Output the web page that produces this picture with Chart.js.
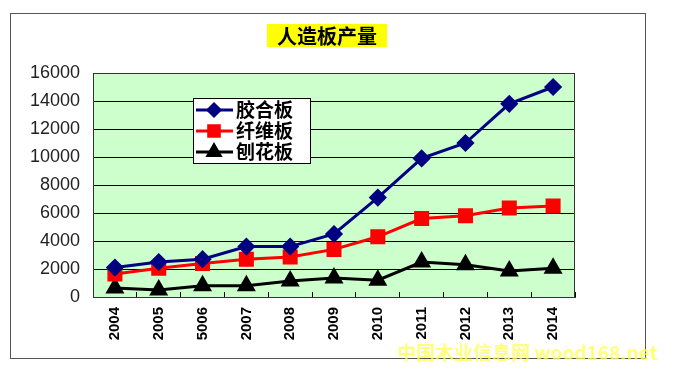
<!DOCTYPE html>
<html>
<head>
<meta charset="utf-8">
<script src="https://cdn.jsdelivr.net/npm/chart.js@4"></script>
<style>
body { margin: 0; background: #fff; }
#wrap { position: relative; width: 674px; height: 370px; }
#frame { position: absolute; left: 10px; top: 13px; width: 634px; height: 344px; border: 1px solid #555; }
#chart { position: absolute; left: 0; top: 0; }
#title { position: absolute; left: 267px; top: 24px; width: 120px; height: 23px; background: #ffff00;
  font: bold 20px "Noto Sans CJK SC"; line-height: 23px; text-align: center; color: #000; }
#mark { position: absolute; left: 397px; top: 341px; font: bold 19px "Noto Sans CJK SC"; line-height: 22px;
  color: rgba(255, 255, 80, 0.75); white-space: nowrap; }
</style>
</head>
<body>
<div id="wrap">
  <div id="frame"></div>
  <canvas id="chart" width="674" height="370"></canvas>
  <div id="title">人造板产量</div>
  <div id="mark">中国木业信息网 wood168.net</div>
</div>
<script>
// jaren (2006 staat als 5006 in het plaatje)
const years = ["2004", "2005", "5006", "2007", "2008", "2009", "2010", "2011", "2012", "2013", "2014"];

// productie per soort plaat
const jiaoheban = [2100, 2500, 2700, 3600, 3600, 4500, 7100, 9900, 11000, 13800, 15000];
const xianweiban = [1650, 2050, 2400, 2700, 2850, 3400, 4300, 5600, 5800, 6350, 6500];
const baohuaban = [650, 500, 800, 800, 1150, 1350, 1200, 2500, 2300, 1850, 2050];

const seriesNames = ["胶合板", "纤维板", "刨花板"];

Chart.defaults.font.family = "Liberation Sans";

// groene achtergrond + rand om plotgebied
const plotArea = {
    id: "plotArea",
    beforeDraw(chart) {
        const a = chart.chartArea;
        const ctx = chart.ctx;
        ctx.save();
        ctx.fillStyle = "#ccffcc";
        ctx.fillRect(a.left, a.top, a.right - a.left, a.bottom - a.top);
        ctx.restore();
    },
    afterDraw(chart) {
        const a = chart.chartArea;
        const ctx = chart.ctx;
        ctx.save();
        ctx.strokeStyle = "#333";
        ctx.lineWidth = 1;
        ctx.strokeRect(a.left + 0.5, a.top + 0.5, a.right - a.left - 1, a.bottom - a.top);
        ctx.restore();
    }
};

// legenda met witte doos
const legendBox = {
    id: "legendBox",
    afterDraw(chart) {
        const ctx = chart.ctx;
        ctx.save();
        ctx.fillStyle = "#fff";
        ctx.fillRect(193.5, 98.5, 117, 65);
        ctx.strokeStyle = "#000";
        ctx.lineWidth = 1;
        ctx.strokeRect(193.5, 98.5, 117, 65);
        chart.data.datasets.forEach((ds, i) => {
            const y = 110 + i * 21;
            ctx.strokeStyle = ds.borderColor;
            ctx.lineWidth = 3;
            ctx.beginPath();
            ctx.moveTo(196, y);
            ctx.lineTo(233, y);
            ctx.stroke();
            ctx.fillStyle = ds.borderColor;
            Chart.helpers.drawPoint(ctx, { pointStyle: ds.pointStyle, radius: ds.pointRadius - 1, borderWidth: 1 }, 214, y);
            ctx.fillStyle = "#000";
            ctx.font = 'bold 19px "Noto Sans CJK SC"';
            ctx.textBaseline = "middle";
            ctx.fillText(ds.label, 236, y);
        });
        ctx.restore();
    }
};

const data = {
    labels: years,
    datasets: [
        {
            label: seriesNames[0],
            data: jiaoheban,
            borderColor: "#000080",
            backgroundColor: "#000080",
            borderWidth: 3,
            pointStyle: "rectRot",
            pointRadius: 7,
        },
        {
            label: seriesNames[1],
            data: xianweiban,
            borderColor: "#ff0000",
            backgroundColor: "#ff0000",
            borderWidth: 3,
            pointStyle: "rect",
            pointRadius: 8.5,
        },
        {
            label: seriesNames[2],
            data: baohuaban,
            borderColor: "#000000",
            backgroundColor: "#000000",
            borderWidth: 3,
            pointStyle: "triangle",
            pointRadius: 8,
        }
    ]
};

const config = {
    type: "line",
    data: data,
    plugins: [plotArea, legendBox],
    options: {
        responsive: false,
        animation: false,
        layout: { padding: { left: 0, top: 73, right: 99, bottom: 0 } },
        plugins: {
            legend: { display: false },
            tooltip: { enabled: false }
        },
        scales: {
            x: {
                offset: true,
                grid: { offset: true, drawOnChartArea: false, tickLength: -5, color: "#000" },
                border: { color: "#333" },
                ticks: {
                    minRotation: 90,
                    maxRotation: 90,
                    padding: 15,
                    color: "#000",
                    font: { size: 15, weight: "bold" }
                },
                afterFit(s) { s.height = 73; }
            },
            y: {
                min: 0,
                max: 16000,
                ticks: {
                    stepSize: 2000,
                    padding: 13,
                    color: "#222",
                    font: { size: 18 },
                    callback: (v) => String(v)
                },
                grid: { color: "#000", drawTicks: false },
                border: { color: "#333" },
                afterFit(s) { s.width = 93; }
            }
        }
    }
};

const chart = new Chart(document.getElementById("chart"), config);
</script>
</body>
</html>
